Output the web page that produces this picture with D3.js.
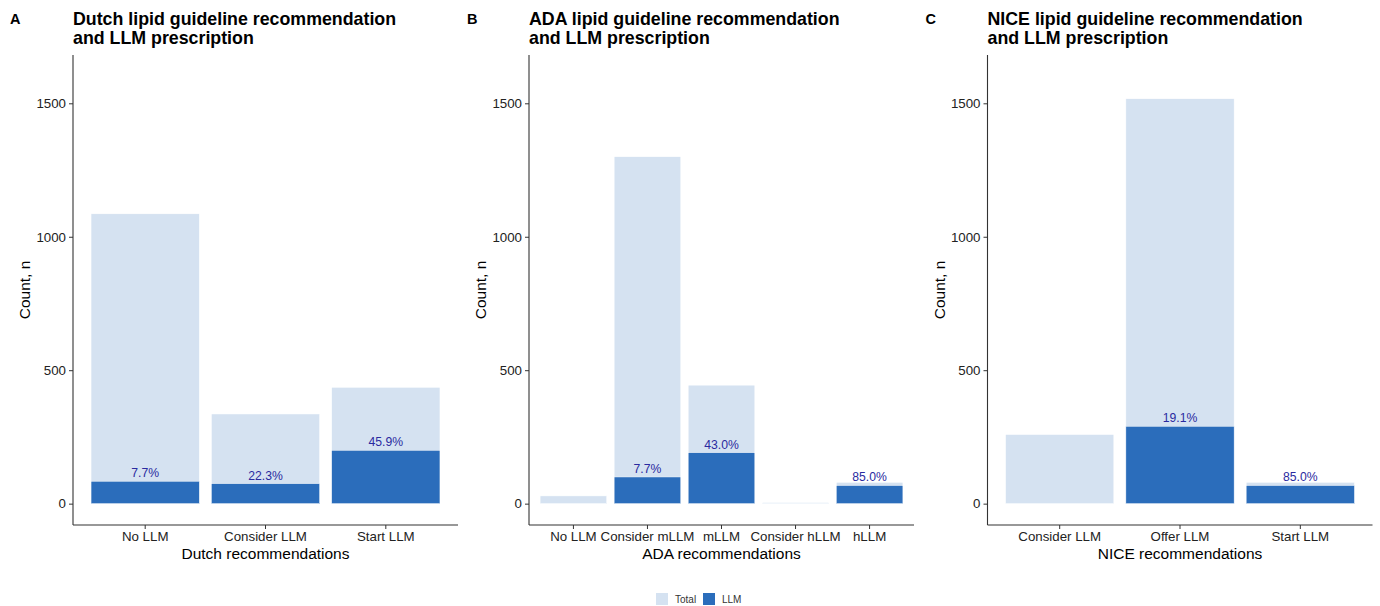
<!DOCTYPE html>
<html><head><meta charset="utf-8">
<script src="https://cdn.jsdelivr.net/npm/d3@7"></script>
<style>body{margin:0;background:#fff}svg{display:block}text{font-family:"Liberation Sans",Arial,sans-serif}</style>
</head><body>
<svg id="chart" width="1380" height="606"></svg>
<script>
const dutchCategories = ["No LLM", "Consider LLM", "Start LLM"];
const dutchTotal = [1086, 336, 436];
const dutchLLM = [84, 75, 200];

const adaCategories = ["No LLM", "Consider mLLM", "mLLM", "Consider hLLM", "hLLM"];
const adaTotal = [29, 1300, 444, 4, 80];
const adaLLM = [0, 100, 191, 0, 68];

const niceCategories = ["Consider LLM", "Offer LLM", "Start LLM"];
const niceTotal = [259, 1517, 80];
const niceLLM = [0, 290, 68];

const yTicks = [0, 500, 1000, 1500];
const yDomain = [-80, 1681];

const panels = [
  {tag: "A", title: ["Dutch lipid guideline recommendation", "and LLM prescription"], xTitle: "Dutch recommendations", cats: dutchCategories, total: dutchTotal, llm: dutchLLM, x0: 73},
  {tag: "B", title: ["ADA lipid guideline recommendation", "and LLM prescription"], xTitle: "ADA recommendations", cats: adaCategories, total: adaTotal, llm: adaLLM, x0: 529},
  {tag: "C", title: ["NICE lipid guideline recommendation", "and LLM prescription"], xTitle: "NICE recommendations", cats: niceCategories, total: niceTotal, llm: niceLLM, x0: 987.5}
];

const colTotal = "#d5e2f1";
const colLLM = "#2b6dbb";
const svg = d3.select("#chart");
const W = 385, yTop = 55, yBottom = 525;
const FONT = '"Liberation Sans",Arial,sans-serif';

panels.forEach((p, pi) => {
  const g = svg.append("g");
  const x = d3.scaleBand().domain(p.cats).range([p.x0, p.x0 + W]).paddingInner(0.1).paddingOuter(0.15);
  const y = d3.scaleLinear().domain(yDomain).range([yBottom, yTop]);

  // panel tag
  svg.append("text").attr("x", pi === 0 ? 10 : p.x0 - 62).attr("y", 24)
    .attr("font-size", 14.5).attr("font-weight", "bold").text(p.tag);
  // title
  p.title.forEach((t, i) => {
    svg.append("text").attr("x", p.x0).attr("y", 25 + i * 19)
      .attr("font-size", 17.8).attr("font-weight", "bold").attr("fill", "#000").text(t);
  });

  // bars total
  g.selectAll(".tot").data(p.cats).join("rect")
    .attr("x", d => x(d)).attr("width", x.bandwidth())
    .attr("y", (d, i) => y(p.total[i])).attr("height", (d, i) => y(0) - y(p.total[i]))
    .attr("fill", colTotal).attr("stroke", "#fff").attr("stroke-width", 0.5);
  // bars LLM
  g.selectAll(".llm").data(p.cats).join("rect")
    .attr("x", d => x(d)).attr("width", x.bandwidth())
    .attr("y", (d, i) => y(p.llm[i])).attr("height", (d, i) => y(0) - y(p.llm[i]))
    .attr("fill", colLLM).attr("stroke", "#fff").attr("stroke-width", 0.5)
    .attr("display", (d, i) => p.llm[i] > 0 ? null : "none");
  // labels
  g.selectAll(".lab").data(p.cats).join("text")
    .attr("x", d => x(d) + x.bandwidth() / 2).attr("y", (d, i) => y(p.llm[i]) - 4)
    .attr("text-anchor", "middle").attr("font-size", 12.2).attr("fill", "#2a2aa0")
    .text((d, i) => p.llm[i] > 0 ? (100 * p.llm[i] / p.total[i]).toFixed(1) + "%" : "");

  // y axis
  const ya = svg.append("g").attr("transform", `translate(${p.x0},0)`)
    .call(d3.axisLeft(y).tickValues(yTicks).tickFormat(d3.format("d")).tickSize(4).tickPadding(3));
  ya.select(".domain").attr("stroke", "#333").attr("stroke-width", 1.1).attr("d", `M0,${yTop}V${yBottom}`);
  ya.selectAll(".tick line").attr("stroke", "#333");
  ya.selectAll(".tick text").attr("font-size", 13.3).attr("fill", "#222").attr("font-family", FONT);

  // x axis
  const xa = svg.append("g").attr("transform", `translate(0,${yBottom})`)
    .call(d3.axisBottom(x).tickSize(4).tickPadding(3));
  xa.select(".domain").attr("stroke", "#333").attr("stroke-width", 1.1).attr("d", `M${p.x0},0H${p.x0 + W}`);
  xa.selectAll(".tick line").attr("stroke", "#333");
  xa.selectAll(".tick text").attr("font-size", 13.3).attr("fill", "#222").attr("font-family", FONT);

  // axis titles
  svg.append("text").attr("x", p.x0 + W / 2).attr("y", 559).attr("text-anchor", "middle")
    .attr("font-size", 15.5).text(p.xTitle);
  svg.append("text").attr("transform", `translate(${p.x0 - 43},${(yTop + yBottom) / 2}) rotate(-90)`)
    .attr("text-anchor", "middle").attr("font-size", 15.5).text("Count, n");
});

// legend
const legendItems = ["Total", "LLM"];
const legendColors = [colTotal, colLLM];
const lx = [656, 703];
legendItems.forEach((t, i) => {
  svg.append("rect").attr("x", lx[i]).attr("y", 593).attr("width", 12).attr("height", 12).attr("fill", legendColors[i]);
  svg.append("text").attr("x", lx[i] + 19).attr("y", 603).attr("font-size", 10).attr("fill", "#333").text(t);
});
</script>
</body></html>
